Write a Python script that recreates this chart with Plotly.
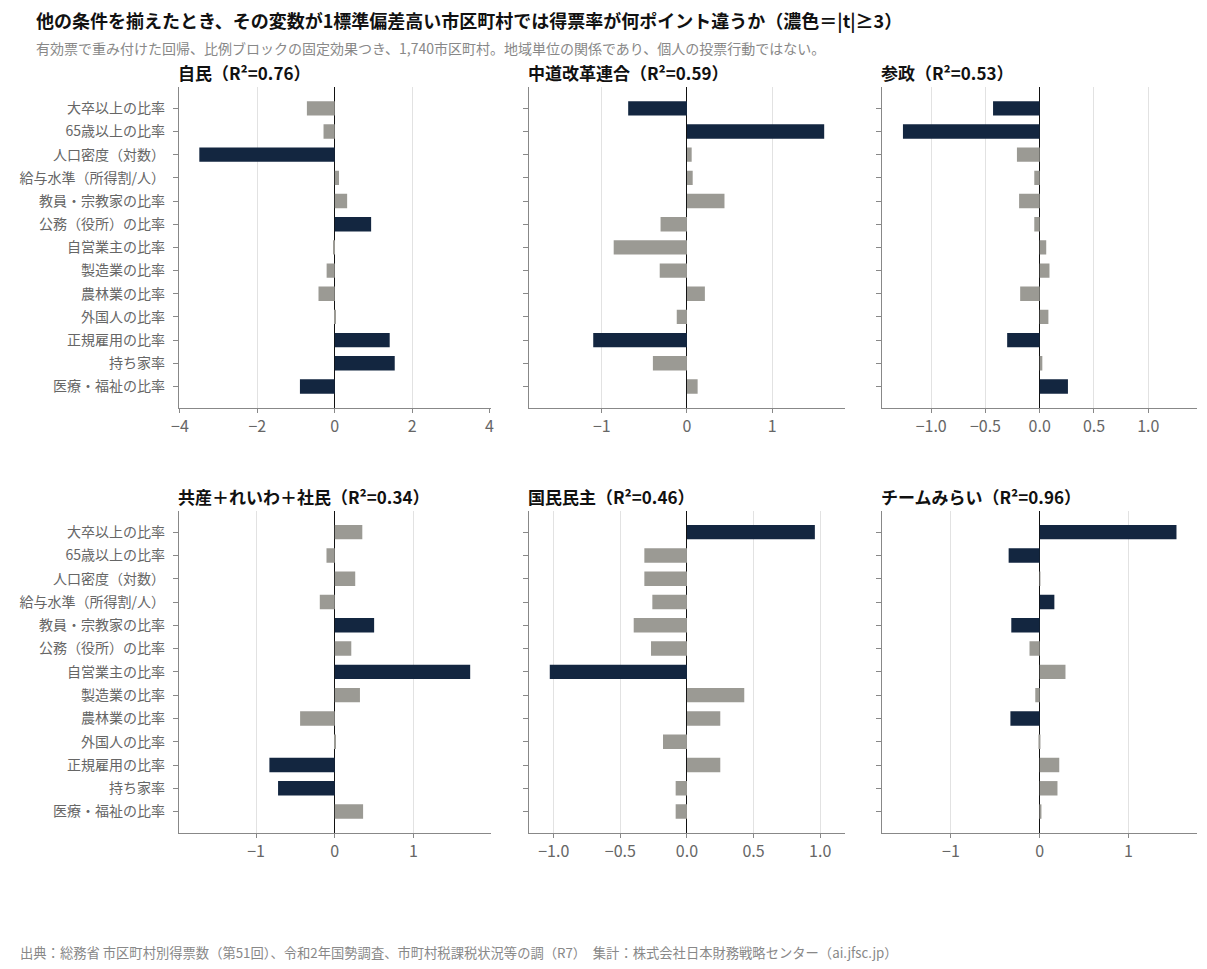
import plotly.graph_objects as go

# 説明変数（上から順）
variables = [
    "大卒以上の比率", "65歳以上の比率", "人口密度（対数）", "給与水準（所得割/人）",
    "教員・宗教家の比率", "公務（役所）の比率", "自営業主の比率", "製造業の比率",
    "農林業の比率", "外国人の比率", "正規雇用の比率", "持ち家率", "医療・福祉の比率",
]

parties = ["自民", "中道改革連合", "参政", "共産＋れいわ＋社民", "国民民主", "チームみらい"]
r2 = [0.76, 0.59, 0.53, 0.34, 0.46, 0.96]

# 1標準偏差あたりの得票率差（ポイント）
coef_ldp = [-0.72, -0.29, -3.50, 0.11, 0.32, 0.94, -0.03, -0.21, -0.42, 0.02, 1.42, 1.55, -0.90]
coef_chudo = [-0.69, 1.61, 0.055, 0.067, 0.44, -0.31, -0.86, -0.32, 0.21, -0.12, -1.10, -0.40, 0.125]
coef_sansei = [-0.43, -1.26, -0.21, -0.05, -0.19, -0.05, 0.06, 0.09, -0.18, 0.08, -0.30, 0.024, 0.26]
coef_left = [0.35, -0.105, 0.26, -0.19, 0.50, 0.21, 1.72, 0.32, -0.44, 0.013, -0.83, -0.72, 0.36]
coef_dpfp = [0.96, -0.32, -0.32, -0.26, -0.40, -0.27, -1.03, 0.43, 0.25, -0.18, 0.25, -0.085, -0.085]
coef_mirai = [1.54, -0.35, 0.003, 0.165, -0.32, -0.115, 0.29, -0.05, -0.33, -0.01, 0.22, 0.20, 0.015]

# |t|≥3 なら 1
sig_ldp = [0, 0, 1, 0, 0, 1, 0, 0, 0, 0, 1, 1, 1]
sig_chudo = [1, 1, 0, 0, 0, 0, 0, 0, 0, 0, 1, 0, 0]
sig_sansei = [1, 1, 0, 0, 0, 0, 0, 0, 0, 0, 1, 0, 1]
sig_left = [0, 0, 0, 0, 1, 0, 1, 0, 0, 0, 1, 1, 0]
sig_dpfp = [1, 0, 0, 0, 0, 0, 1, 0, 0, 0, 0, 0, 0]
sig_mirai = [1, 1, 0, 1, 1, 0, 0, 0, 1, 0, 0, 0, 0]

coefs = [coef_ldp, coef_chudo, coef_sansei, coef_left, coef_dpfp, coef_mirai]
sigs = [sig_ldp, sig_chudo, sig_sansei, sig_left, sig_dpfp, sig_mirai]
dticks = [2, 1, 0.5, 1, 0.5, 1]

DARK = "#132640"
GRAY = "#9b9a94"
FONT = "Noto Sans CJK JP"

# panel layout (paper coords)
xdom = [[0.0, 0.306], [0.344, 0.654], [0.691, 1.0]]
ydom = [[0.570, 1.0], [0.0, 0.432]]

fig = go.Figure()
n = len(variables)
for i, (party, vals, sig) in enumerate(zip(parties, coefs, sigs)):
    k = "" if i == 0 else str(i + 1)
    row, col = divmod(i, 3)
    fig.add_trace(go.Bar(
        x=vals, y=variables, orientation="h",
        marker=dict(color=[DARK if s else GRAY for s in sig], line_width=0),
        width=0.62, showlegend=False,
        xaxis="x" + k, yaxis="y" + k,
    ))
    lim = max(abs(v) for v in vals) * 1.15
    fig.layout["xaxis" + k] = dict(
        domain=xdom[col], anchor="y" + k, range=[-lim, lim],
        dtick=dticks[i], tickformat=".1f" if dticks[i] < 1 else "d",
        showgrid=True, gridcolor="#e2e2e2", gridwidth=1,
        zeroline=True, zerolinecolor="#111111", zerolinewidth=1.2,
        showline=True, linecolor="#888888", linewidth=1.2,
        ticks="outside", ticklen=4, tickcolor="#888888",
        tickfont=dict(size=16, color="#666666", family=FONT),
    )
    fig.layout["yaxis" + k] = dict(
        domain=ydom[row], anchor="x" + k,
        categoryorder="array", categoryarray=variables,
        range=[n - 1 + 0.92, -0.92],
        showticklabels=(col == 0),
        showline=True, linecolor="#888888", linewidth=1.2,
        ticks="outside", ticklen=5, tickcolor="#888888",
        ticklabelstandoff=5,
        tickfont=dict(size=14, color="#666666", family=FONT),
        showgrid=False,
    )
    fig.add_annotation(
        text=f"<b>{party}（R²={r2[i]:.2f}）</b>",
        xref="x" + k + " domain", yref="y" + k + " domain",
        x=0, y=1.0, xanchor="left", yanchor="bottom", xshift=-3, yshift=0,
        showarrow=False, font=dict(size=17, color="#111111", family=FONT),
    )

fig.add_annotation(
    text="<b>他の条件を揃えたとき、その変数が1標準偏差高い市区町村では得票率が何ポイント違うか（濃色＝|t|≥3）</b>",
    xref="paper", yref="paper", x=-0.135, y=1.0, xshift=-8, yshift=67,
    xanchor="left", yanchor="middle", showarrow=False,
    font=dict(size=18, color="#111111", family=FONT),
)
fig.add_annotation(
    text="有効票で重み付けた回帰、比例ブロックの固定効果つき、1,740市区町村。地域単位の関係であり、個人の投票行動ではない。",
    xref="paper", yref="paper", x=-0.135, y=1.0, xshift=-8, yshift=39,
    xanchor="left", yanchor="middle", showarrow=False,
    font=dict(size=14, color="#888888", family=FONT),
)
fig.add_annotation(
    text="出典：総務省 市区町村別得票数（第51回）、令和2年国勢調査、市町村税課税状況等の調（R7）　集計：株式会社日本財務戦略センター（ai.jfsc.jp）",
    xref="paper", yref="paper", x=-0.150, y=0, xshift=-8, yshift=-119,
    xanchor="left", yanchor="middle", showarrow=False,
    font=dict(size=13.3, color="#888888", family=FONT),
)

# page body adds an 8px offset; margins compensate
fig.update_layout(
    width=1207, height=969,
    margin=dict(l=167, r=18, t=79, b=144),
    paper_bgcolor="white", plot_bgcolor="white",
    font=dict(family=FONT),
    bargap=0.38,
)

fig.write_html("out.html")
